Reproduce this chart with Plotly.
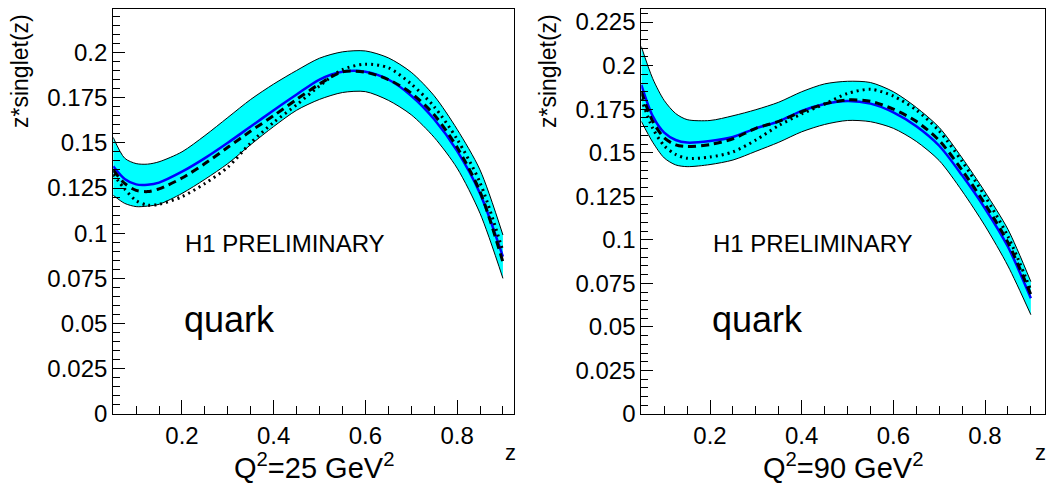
import plotly.graph_objects as go

W, H = 1057, 486

# momentum fraction grid
z = [0.05, 0.075, 0.1, 0.125, 0.15, 0.2, 0.25, 0.3, 0.35, 0.4,
     0.45, 0.5, 0.55, 0.6, 0.65, 0.7, 0.75, 0.8, 0.85, 0.9]

# Q^2 = 25 GeV^2
q25_upper = [0.153, 0.1415, 0.1385, 0.1382, 0.1395, 0.145, 0.154, 0.164, 0.174, 0.1825,
             0.190, 0.1968, 0.2003, 0.2008, 0.197, 0.189, 0.176, 0.1575, 0.135, 0.099]
q25_lower = [0.121, 0.1165, 0.1147, 0.115, 0.116, 0.122, 0.1298, 0.1385, 0.149, 0.159,
             0.168, 0.174, 0.1778, 0.1783, 0.1735, 0.1655, 0.153, 0.136, 0.111, 0.075]
q25_central = [0.137, 0.130, 0.127, 0.1268, 0.128, 0.134, 0.1415, 0.150, 0.159, 0.168,
               0.1767, 0.185, 0.1893, 0.1893, 0.185, 0.176, 0.163, 0.1455, 0.122, 0.087]
q25_dashed = [0.135, 0.1275, 0.1237, 0.123, 0.1245, 0.1305, 0.1385, 0.1475, 0.1565, 0.165,
              0.174, 0.1825, 0.1893, 0.189, 0.185, 0.1775, 0.1655, 0.1475, 0.123, 0.084]
q25_dotted = [0.1325, 0.1245, 0.118, 0.1155, 0.116, 0.1202, 0.1275, 0.1365, 0.150, 0.1613,
              0.171, 0.1815, 0.1905, 0.1935, 0.1915, 0.1825, 0.170, 0.152, 0.128, 0.090]

# Q^2 = 90 GeV^2
q90_upper = [0.211, 0.1925, 0.180, 0.1725, 0.169, 0.1685, 0.1712, 0.1747, 0.179, 0.185,
             0.1895, 0.191, 0.1903, 0.185, 0.176, 0.1645, 0.147, 0.1275, 0.106, 0.076]
q90_lower = [0.168, 0.156, 0.147, 0.143, 0.142, 0.1432, 0.1458, 0.1508, 0.156, 0.162,
             0.1662, 0.1685, 0.1678, 0.164, 0.1565, 0.1455, 0.128, 0.108, 0.085, 0.057]
q90_central = [0.189, 0.171, 0.1615, 0.1573, 0.1558, 0.1567, 0.159, 0.164, 0.168, 0.174,
               0.178, 0.1797, 0.1782, 0.1732, 0.1652, 0.154, 0.137, 0.118, 0.096, 0.0665]
q90_dashed = [0.185, 0.168, 0.1585, 0.1545, 0.1535, 0.1547, 0.158, 0.164, 0.168, 0.1735,
              0.178, 0.1803, 0.1795, 0.175, 0.168, 0.157, 0.140, 0.1205, 0.0985, 0.0685]
q90_dotted = [0.181, 0.164, 0.154, 0.149, 0.1468, 0.1475, 0.1505, 0.1573, 0.1656, 0.1723,
              0.178, 0.184, 0.1864, 0.1825, 0.1745, 0.1625, 0.145, 0.125, 0.102, 0.071]

x_tickvals = [0.2, 0.4, 0.6, 0.8]
x_ticktext = ["0.2", "0.4", "0.6", "0.8"]
y_tickvals_25 = [0, 0.025, 0.05, 0.075, 0.1, 0.125, 0.15, 0.175, 0.2]
y_ticktext_25 = ["0", "0.025", "0.05", "0.075", "0.1", "0.125", "0.15", "0.175", "0.2"]
y_tickvals_90 = y_tickvals_25 + [0.225]
y_ticktext_90 = y_ticktext_25 + ["0.225"]

panels = [
    dict(upper=q25_upper, lower=q25_lower, central=q25_central, dashed=q25_dashed,
         dotted=q25_dotted, title="Q<sup>2</sup>=25 GeV<sup>2</sup>",
         yt=(y_tickvals_25, y_ticktext_25), yrange=[0, 0.224], xrange=[0.05, 0.925],
         px=(113.2, 514.4), off=0),
    dict(upper=q90_upper, lower=q90_lower, central=q90_central, dashed=q90_dashed,
         dotted=q90_dotted, title="Q<sup>2</sup>=90 GeV<sup>2</sup>",
         yt=(y_tickvals_90, y_ticktext_90), yrange=[0, 0.2325], xrange=[0.05, 0.93],
         px=(641.3, 1044.6), off=528),
]

FONT = "Liberation Sans, Arial, Helvetica, sans-serif"
fig = go.Figure()
plot_top, plot_bottom = 9, 414
ydom = [1 - plot_bottom / H, 1 - plot_top / H]


def spline(color, width, dash=None):
    d = dict(color=color, width=width, shape="spline", smoothing=0.8)
    if dash:
        d["dash"] = dash
    return d


annotations = []
for i, p in enumerate(panels):
    xa = "x" if i == 0 else "x2"
    ya = "y" if i == 0 else "y2"
    common = dict(x=z, xaxis=xa, yaxis=ya, mode="lines", showlegend=False,
                  hoverinfo="skip")
    # uncertainty band
    fig.add_trace(go.Scatter(y=p["lower"], line=spline("black", 1), **common))
    fig.add_trace(go.Scatter(y=p["upper"], fill="tonexty", fillcolor="#00FFFF",
                             line=spline("black", 1), **common))
    # central fit and alternative parameterisations
    fig.add_trace(go.Scatter(y=p["central"], line=spline("#0000FF", 2.5), **common))
    fig.add_trace(go.Scatter(y=p["dashed"], line=spline("black", 3, "8px,5px"),
                             **common))
    fig.add_trace(go.Scatter(y=p["dotted"], line=spline("black", 3, "2px,4px"),
                             **common))

    x0, x1 = p["px"]
    axis_x = dict(domain=[x0 / W, x1 / W], range=p["xrange"], anchor=ya,
                  automargin=False, showgrid=False, zeroline=False, showline=True,
                  linecolor="black", linewidth=1, mirror=True, ticks="inside",
                  ticklen=14, tickcolor="black", tickwidth=1, tickmode="array",
                  tickvals=x_tickvals, ticktext=x_ticktext,
                  tickfont=dict(family=FONT, size=24, color="black"),
                  minor=dict(ticks="inside", ticklen=8, tickcolor="black", tickwidth=1,
                             tickmode="linear", tick0=0, dtick=0.05, showgrid=False))
    axis_y = dict(domain=ydom, range=p["yrange"], anchor=xa,
                  automargin=False, showgrid=False, zeroline=False, showline=True,
                  linecolor="black", linewidth=1, mirror=True, ticks="inside",
                  ticklen=12, tickcolor="black", tickwidth=1, tickmode="array",
                  tickvals=p["yt"][0], ticktext=p["yt"][1],
                  tickfont=dict(family=FONT, size=24, color="black"),
                  minor=dict(ticks="inside", ticklen=7, tickcolor="black", tickwidth=1,
                             tickmode="linear", tick0=0, dtick=0.005, showgrid=False))
    if i == 0:
        fig.update_layout(xaxis=axis_x, yaxis=axis_y)
    else:
        fig.update_layout(xaxis2=axis_x, yaxis2=axis_y)

    off = p["off"]
    cx = (x0 + x1) / 2
    annotations += [
        dict(text="z*singlet(z)", x=(20 + off) / W, y=1 - 12 / H, xref="paper",
             yref="paper", textangle=-90, xanchor="center", yanchor="top",
             showarrow=False, font=dict(family=FONT, size=23, color="black")),
        dict(text="z", x=(x1 - 4) / W, y=1 - 452 / H, xref="paper", yref="paper",
             xanchor="center", yanchor="middle", showarrow=False,
             font=dict(family=FONT, size=22, color="black")),
        dict(text=p["title"], x=cx / W, y=0.0, xref="paper", yref="paper",
             xanchor="center", yanchor="bottom", showarrow=False,
             font=dict(family=FONT, size=29, color="black")),
        dict(text="H1 PRELIMINARY", x=(x0 + 70) / W, y=1 - 243 / H, xref="paper",
             yref="paper", xanchor="left", yanchor="middle", showarrow=False,
             font=dict(family=FONT, size=24, color="black")),
        dict(text="quark", x=(x0 + 69) / W, y=1 - 319 / H, xref="paper",
             yref="paper", xanchor="left", yanchor="middle", showarrow=False,
             font=dict(family=FONT, size=36, color="black")),
    ]

fig.update_layout(template="none", width=W, height=H,
                  margin=dict(l=0, r=0, t=0, b=0, autoexpand=False),
                  paper_bgcolor="white", plot_bgcolor="white",
                  annotations=annotations, showlegend=False)

fig.write_html("out.html")
